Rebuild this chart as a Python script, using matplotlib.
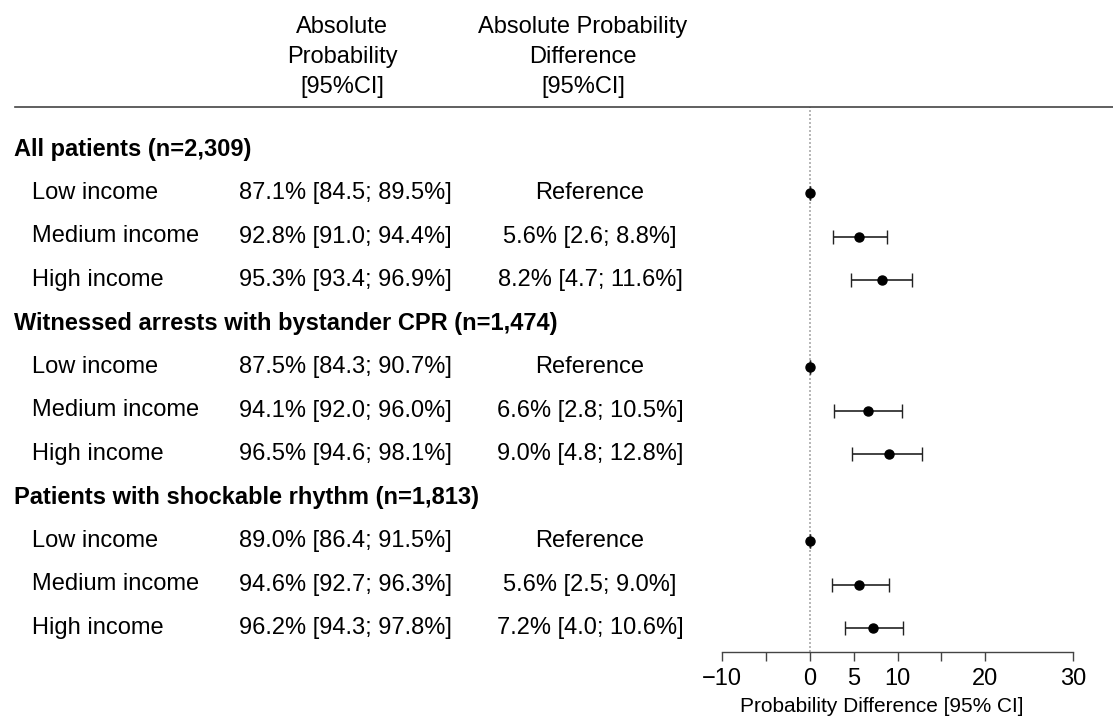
import matplotlib
matplotlib.use("Agg")
import matplotlib.pyplot as plt
from matplotlib.transforms import blended_transform_factory

plt.rcParams['font.family'] = ['Liberation Sans', 'DejaVu Sans']

groups = ["All patients (n=2,309)",
          "Witnessed arrests with bystander CPR (n=1,474)",
          "Patients with shockable rhythm (n=1,813)"]
levels = ["Low income", "Medium income", "High income"]
abs_prob = [["87.1% [84.5; 89.5%]", "92.8% [91.0; 94.4%]", "95.3% [93.4; 96.9%]"],
            ["87.5% [84.3; 90.7%]", "94.1% [92.0; 96.0%]", "96.5% [94.6; 98.1%]"],
            ["89.0% [86.4; 91.5%]", "94.6% [92.7; 96.3%]", "96.2% [94.3; 97.8%]"]]
diff_text = [["Reference", "5.6% [2.6; 8.8%]", "8.2% [4.7; 11.6%]"],
             ["Reference", "6.6% [2.8; 10.5%]", "9.0% [4.8; 12.8%]"],
             ["Reference", "5.6% [2.5; 9.0%]", "7.2% [4.0; 10.6%]"]]
est = [[0.0, 5.6, 8.2], [0.0, 6.6, 9.0], [0.0, 5.6, 7.2]]
lo = [[0.0, 2.6, 4.7], [0.0, 2.8, 4.8], [0.0, 2.5, 4.0]]
hi = [[0.0, 8.8, 11.6], [0.0, 10.5, 12.8], [0.0, 9.0, 10.6]]
xticks = [-10, -5, 0, 5, 10, 15, 20, 30]
xticklabels = ["\u221210", "", "0", "5", "10", "", "20", "30"]
xlabel = "Probability Difference [95% CI]"

W, H = 1113, 722
fig = plt.figure(figsize=(W / 100, H / 100), dpi=100)

# axes spanning from header line (y=107px) to axis (y=652px), x from -10 (722px) to 30 (1073px)
x0, x1 = 722, 1073
ytop, ybot = 107, 652
ax = fig.add_axes([x0 / W, 1 - ybot / H, (x1 - x0) / W, (ybot - ytop) / H])
row0, step = 149.5, 43.5
ax.set_ylim((ybot - row0) / step, -(row0 - ytop) / step)
ax.set_xlim(-10, 30)
for s in ["top", "left", "right"]:
    ax.spines[s].set_visible(False)
ax.spines["bottom"].set_bounds(-10, 30)
ax.spines["bottom"].set_color("#444444")
ax.spines["bottom"].set_linewidth(1.0)
ax.set_yticks([])
ax.set_xticks(xticks)
ax.set_xticklabels(xticklabels, fontsize=17)
ax.tick_params(axis="x", length=6.5, width=1, color="#444444", pad=4.7)
fig.text(881.5 / W, 1 - 707 / H, xlabel, fontsize=15, ha="center", va="center")

ax.axvline(0, color="#aaaaaa", linestyle=(0, (1.2, 1.2)), lw=1.2, zorder=1)

tr = blended_transform_factory(fig.transFigure, ax.transData)
fs = 17
row = 0
for g in range(3):
    ax.text(14 / W, row, groups[g], transform=tr, fontsize=fs, fontweight="bold",
            ha="left", va="center")
    row += 1
    for k in range(3):
        ax.text(32 / W, row, levels[k], transform=tr, fontsize=fs, ha="left", va="center")
        ax.text(239 / W, row, abs_prob[g][k], transform=tr, fontsize=fs, ha="left", va="center")
        ax.text(590 / W, row, diff_text[g][k], transform=tr, fontsize=fs, ha="center", va="center")
        e = est[g][k]
        ax.errorbar([e], [row], xerr=[[e - lo[g][k]], [hi[g][k] - e]], fmt="o", color="black",
                    ms=6.5, elinewidth=1.2, capsize=4.8, capthick=1.0, ecolor="#222222", zorder=3)
        row += 1

# header
hdr_y = [27, 57, 87]
for txt, y in zip(["Absolute", "Probability", "[95%CI]"], hdr_y):
    fig.text(342 / W, 1 - y / H, txt, fontsize=fs, ha="center", va="center")
for txt, y in zip(["Absolute Probability", "Difference", "[95%CI]"], hdr_y):
    fig.text(583 / W, 1 - y / H, txt, fontsize=fs, ha="center", va="center")
fig.add_artist(plt.Line2D([15 / W, 1.0], [1 - 107 / H, 1 - 107 / H], color="#444444", lw=1.2))

fig.savefig("out.png", dpi=100)
